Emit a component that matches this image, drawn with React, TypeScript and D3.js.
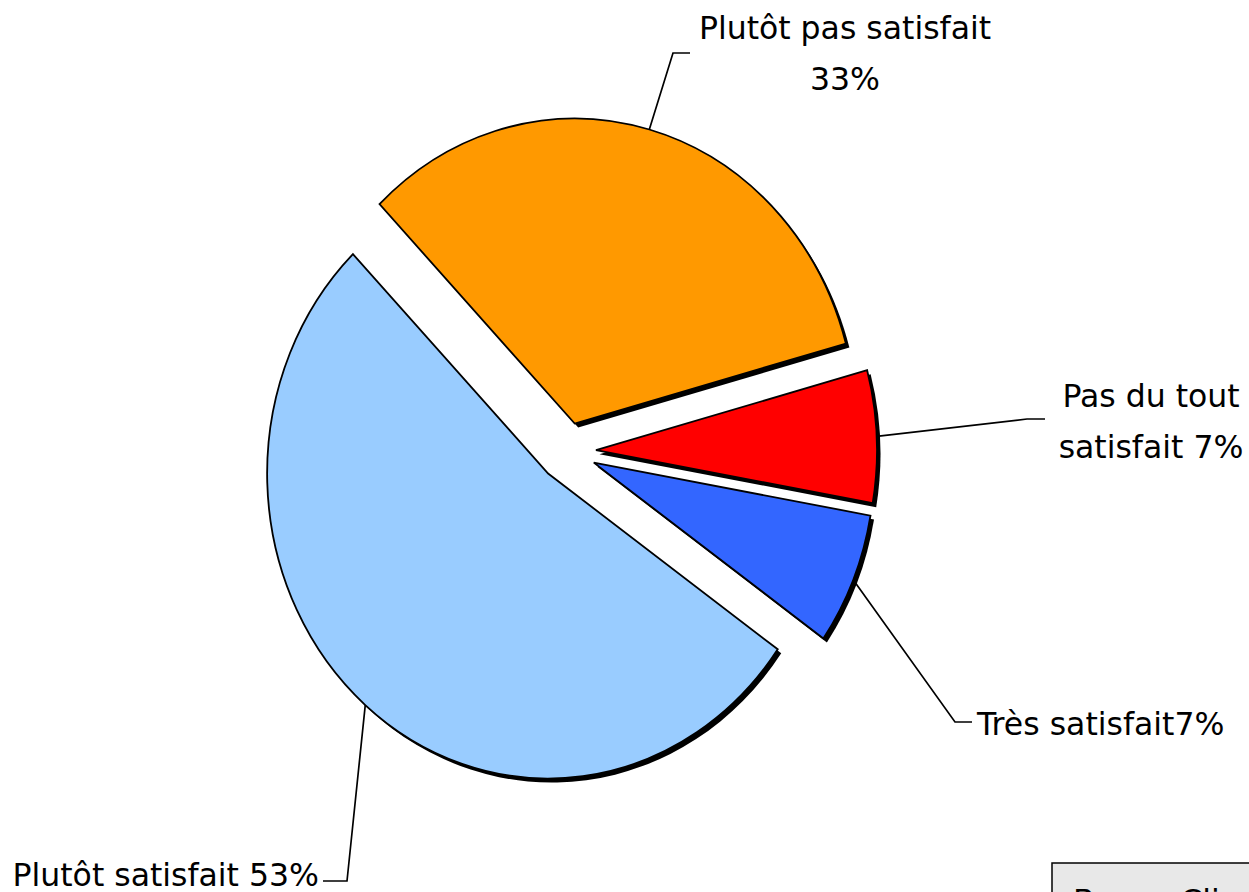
import React from "react";
import * as d3 from "d3";

// slices in drawing order (clockwise, starting upper-left)
const categories = ["Plutôt pas satisfait", "Pas du tout satisfait", "Très satisfait", "Plutôt satisfait"];
const values = [33, 7, 7, 53];
const colors = ["#FF9900", "#FF0000", "#3366FF", "#99CCFF"];
const labelLines = [["Plutôt pas satisfait", "33%"], ["Pas du tout", "satisfait 7%"], ["Très satisfait7%"], ["Plutôt satisfait 53%"]];

const W = 1249;
const H = 892;
const cx = 567;
const cy = 451.5;
const rx = 281;
const ry = 305;
const explode = 29;
const start = (-44 * Math.PI) / 180;

// label layout: elbow, end of leader, text anchor
const labelPos = [
  { elbow: [673, 53], end: [690, 53], tx: 845, ty: 39, anchor: "middle" },
  { elbow: [1027, 419], end: [1045, 419], tx: 1151, ty: 407, anchor: "middle" },
  { elbow: [955, 722], end: [972, 722], tx: 977, ty: 735, anchor: "start" },
  { elbow: [347, 881], end: [323, 881], tx: 319, ty: 886, anchor: "end" },
];

const App = () => {
  const pie = d3
    .pie<number>()
    .sort(null)
    .startAngle(start)
    .endAngle(start + 2 * Math.PI)
    .value((d) => d);
  const arcs = pie(values);
  const arc = d3.arc<d3.PieArcDatum<number>>().innerRadius(0).outerRadius(rx);
  const k = ry / rx;

  const sliceCenter = (a: d3.PieArcDatum<number>) => {
    const mid = (a.startAngle + a.endAngle) / 2;
    return [cx + explode * Math.sin(mid), cy - explode * Math.cos(mid)];
  };

  const line = d3.line();

  return (
    <svg
      width={W}
      height={H}
      style={{ position: "absolute", left: 0, top: 0, background: "#fff" }}
      fontFamily="'DejaVu Sans', sans-serif"
      fontSize={31.5}
    >
      {/* shadows */}
      {arcs.map((a, i) => {
        const [x, y] = sliceCenter(a);
        return (
          <path
            key={"s" + i}
            d={arc(a) || ""}
            transform={`translate(${x + 3.5},${y + 4}) scale(1,${k})`}
            fill="#000"
          />
        );
      })}
      {arcs.map((a, i) => {
        const [x, y] = sliceCenter(a);
        return (
          <path
            key={"p" + i}
            d={arc(a) || ""}
            transform={`translate(${x},${y}) scale(1,${k})`}
            fill={colors[i]}
            stroke="#000"
            strokeWidth={1.8}
            strokeLinejoin="miter"
            vectorEffect="non-scaling-stroke"
          />
        );
      })}
      {/* leader lines + labels */}
      {arcs.map((a, i) => {
        const [x, y] = sliceCenter(a);
        const mid = (a.startAngle + a.endAngle) / 2;
        const p0: [number, number] = [x + rx * Math.sin(mid), y - ry * Math.cos(mid)];
        const lp = labelPos[i];
        return (
          <g key={"l" + i}>
            <path
              d={line([p0, lp.elbow as [number, number], lp.end as [number, number]]) || ""}
              fill="none"
              stroke="#000"
              strokeWidth={1.7}
            />
            <text x={lp.tx} y={lp.ty} textAnchor={lp.anchor as any} fill="#000">
              {labelLines[i].map((t, j) => (
                <tspan key={j} x={lp.tx} dy={j === 0 ? 0 : 51}>
                  {t}
                </tspan>
              ))}
            </text>
          </g>
        );
      })}
      {/* source box, cut off by the frame */}
      <rect x={1052} y={863} width={230} height={60} fill="#E8E8E8" stroke="#000" strokeWidth={1.5} />
      <text x={1073} y={912} fill="#000">Base : Clients</text>
    </svg>
  );
};

export default App;
